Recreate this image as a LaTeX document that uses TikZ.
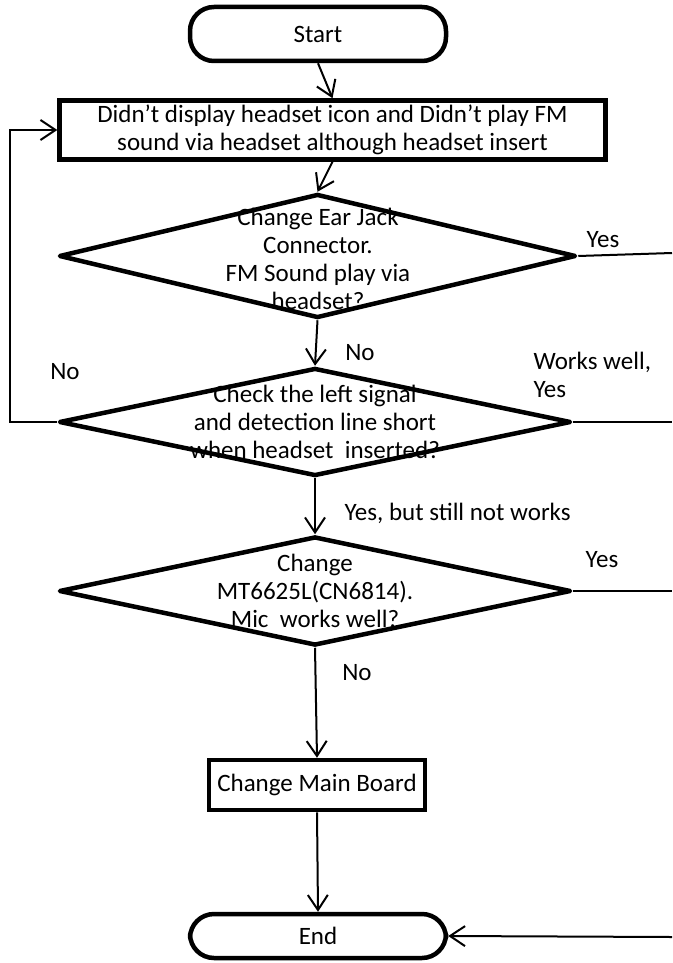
\documentclass[tikz,border=0pt]{standalone}
\usepackage{fontspec}
\setmainfont{Carlito}
\usetikzlibrary{arrows.meta,shapes.geometric}

\begin{document}
\begin{tikzpicture}[x=1pt,y=-1pt,
    font=\fontsize{25}{28}\selectfont,
    term/.style={draw,line width=4.5pt,rounded corners=24pt,minimum width=256pt},
    procbox/.style={draw,line width=4.5pt,align=center},
    decision/.style={draw,diamond,line width=4.5pt,line join=round,inner sep=0pt},
    dtext/.style={align=center,inner sep=0pt},
    conn/.style={line width=2pt,-{Straight Barb[length=15pt,width=20pt]}},
    line/.style={line width=2pt}]
  \useasboundingbox (0,0) rectangle (672,963);

  \node[term,minimum height=54pt] (start) at (318,34) {Start};
  \node[procbox,minimum width=546pt,minimum height=59pt] (fault) at (332.5,130)
    {Didn’t display headset icon and Didn’t play FM\\ sound via headset although headset insert};

  \node[decision,minimum width=517pt,minimum height=124pt] (jack) at (317.5,256) {};
  \node[dtext] (jacktxt) at (318,259)
    {Change Ear Jack\\ Connector.\\ FM Sound play via\\ headset?};

  \node[decision,minimum width=512pt,minimum height=108pt] (short) at (315,422) {};
  \node[dtext] (shorttxt) at (315,422)
    {Check the left signal\\ and detection line short\\ when headset\ \ inserted?};

  \node[decision,minimum width=512pt,minimum height=109pt] (chip) at (315,591) {};
  \node[dtext] (chiptxt) at (315,591)
    {Change\\ MT6625L(CN6814).\\ Mic\ \ works well?};

  \node[procbox,minimum width=216pt,minimum height=50pt] (board) at (317,785) {Change Main Board};
  \node[term,minimum height=44pt] (end) at (318,936) {End};

  % right-hand lines run off the page
  \coordinate (r1) at (672,253);
  \coordinate (r2) at (672,422);
  \coordinate (r3) at (672,591);
  \coordinate (r4) at (672,937);

  \draw[conn] (start.south) -- (fault.north);
  \draw[conn] (fault.south) -- (jack.north);
  \draw[conn] (jack.south) -- (short.north);
  \draw[conn] (short.south) -- (chip.north);
  \draw[conn] (chip.south) -- (board.north);
  \draw[conn] (board.south) -- (end.north);
  \draw[conn] (short.west) -- ++(-47,0) |- (fault.west);
  \draw[line] (jack.east) -- (r1);
  \draw[line] (short.east) -- (r2);
  \draw[line] (chip.east) -- (r3);
  \draw[conn] (r4) -- (end.east);

  \node (yes1) at (603,240) {Yes};
  \node (no1) at (360,353) {No};
  \node (no2) at (65,372) {No};
  \node[align=left,anchor=west] (yes2) at (530,375) {Works well,\\ Yes};
  \node[anchor=west] (yes3) at (341,513) {Yes, but still not works};
  \node (yes4) at (602,560) {Yes};
  \node (no3) at (357,673) {No};
\end{tikzpicture}
\end{document}
